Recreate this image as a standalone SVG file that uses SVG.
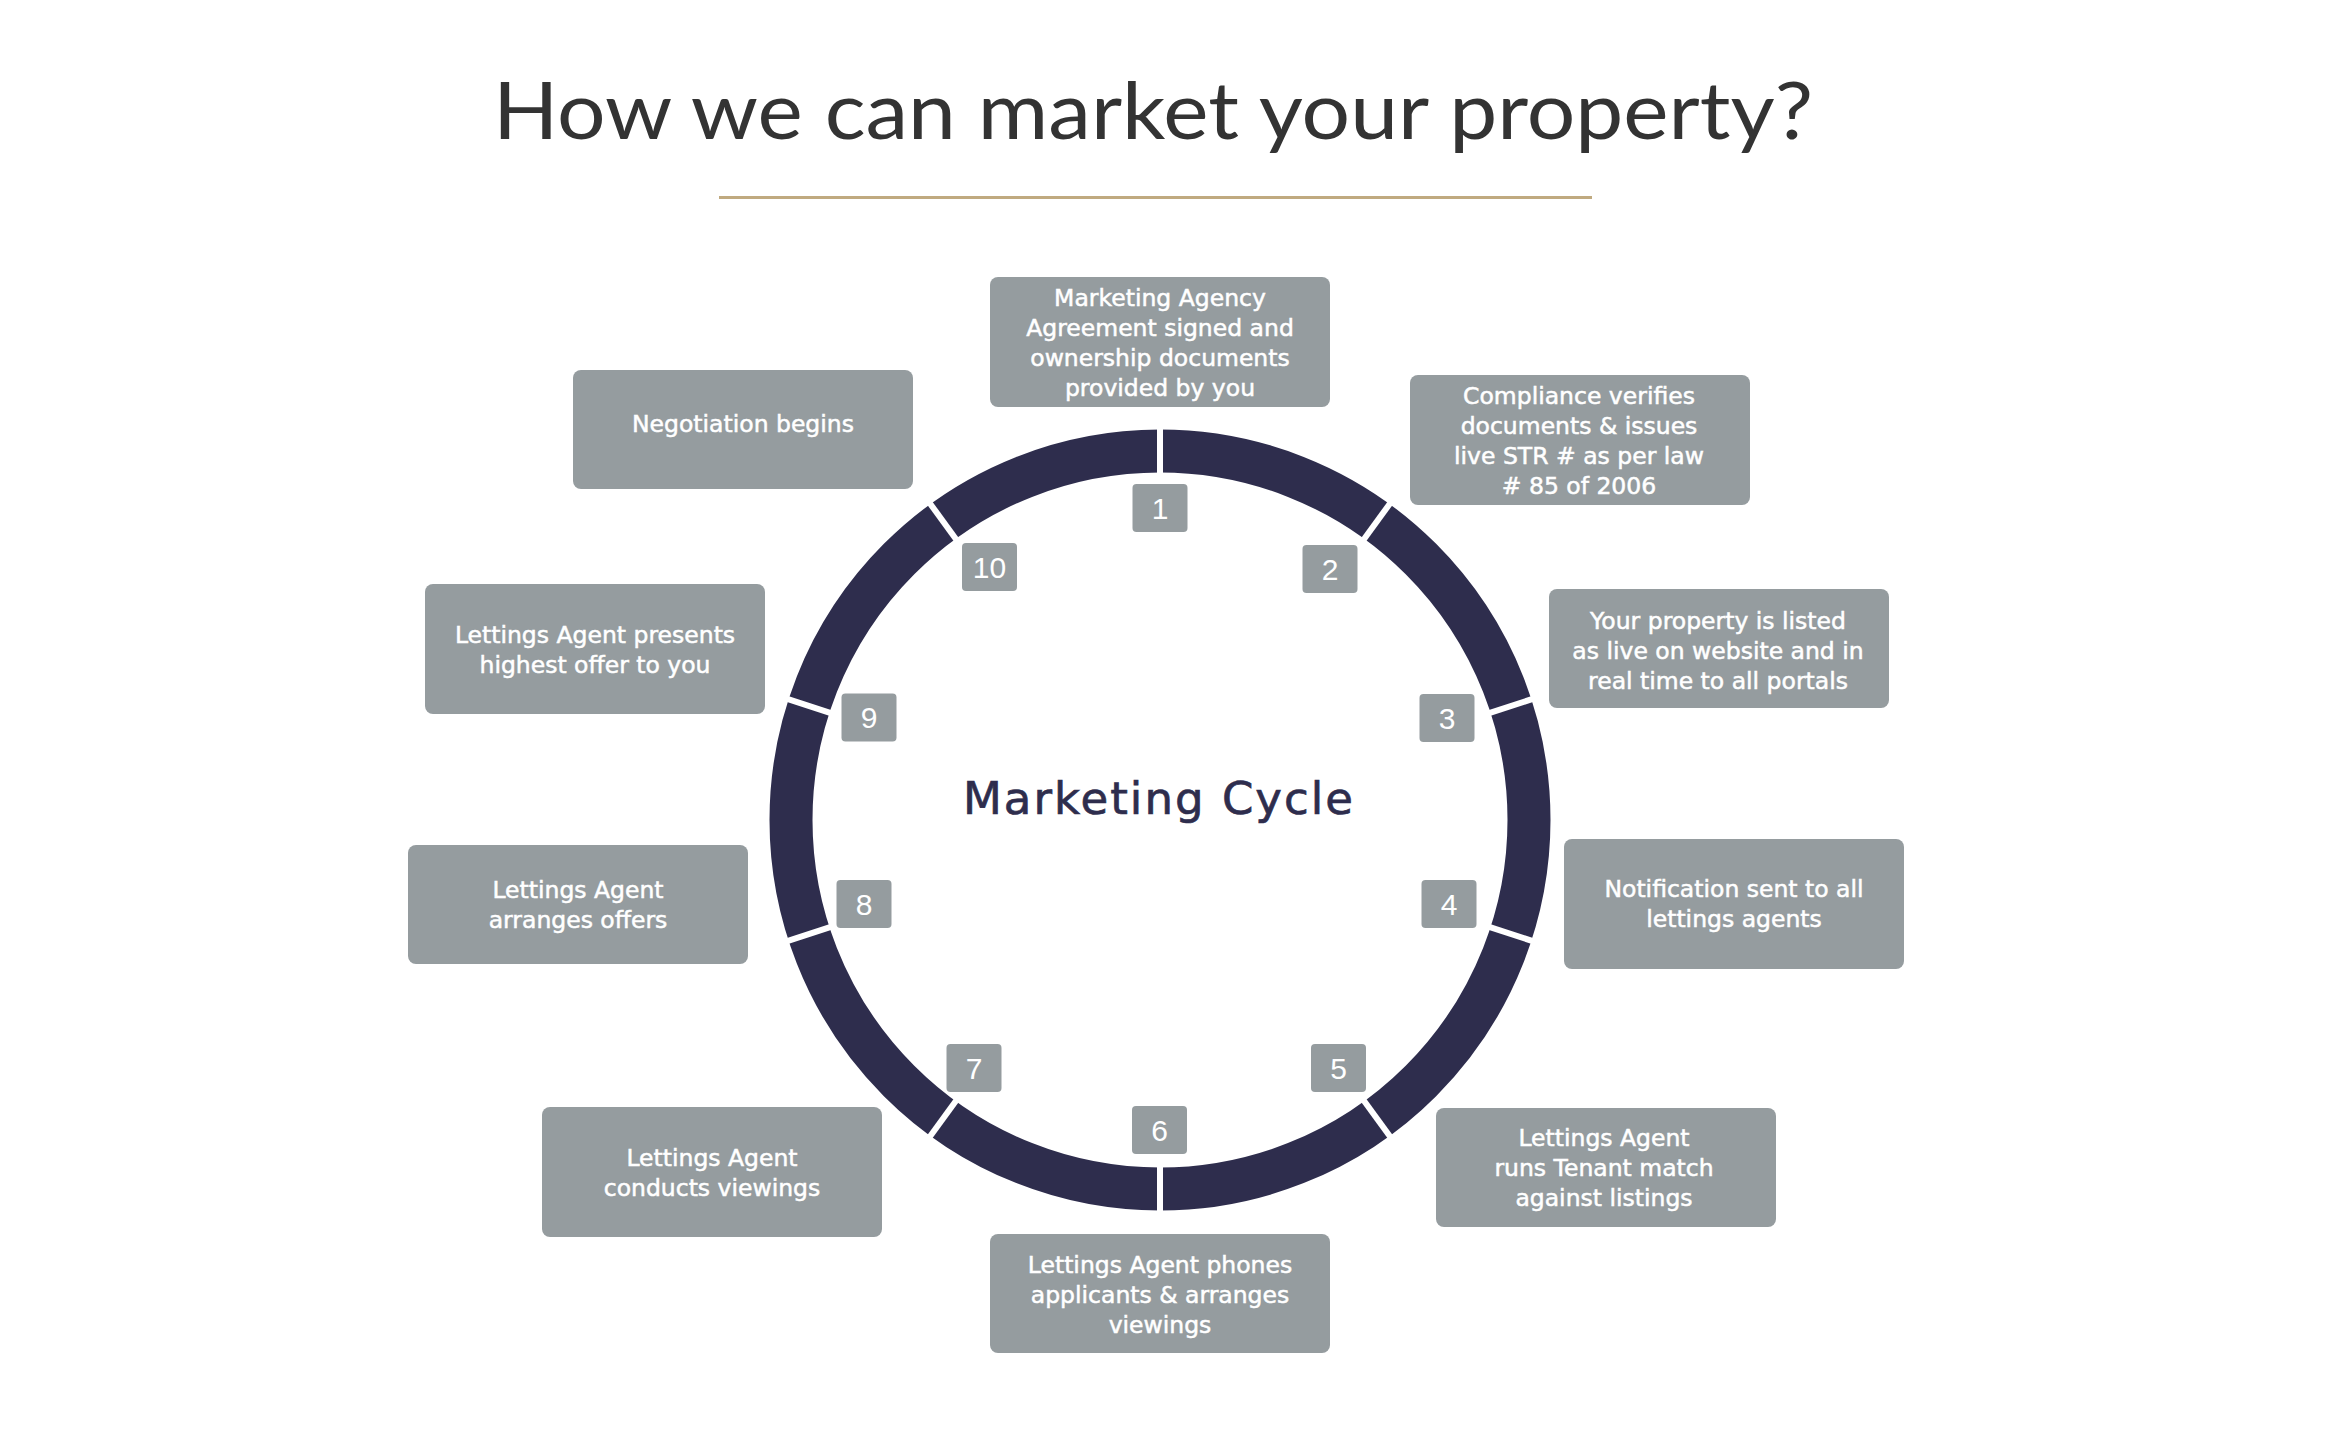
<svg xmlns="http://www.w3.org/2000/svg" width="2326" height="1429" viewBox="0 0 2326 1429">
<style>
.title{font-family:Lato,"Liberation Sans",sans-serif;font-size:80px;fill:#333333}
.box{fill:#959c9f}
.lbl{font-family:"DejaVu Sans","Liberation Sans",sans-serif;font-size:23.5px;fill:#ffffff;stroke:#ffffff;stroke-width:0.5;text-anchor:middle}
.num{fill:#959c9f}
.numt{font-family:"Liberation Sans",Arial,sans-serif;font-size:30px;fill:#ffffff;text-anchor:middle}
.center{font-family:"DejaVu Sans","Liberation Sans",sans-serif;font-size:45px;fill:#2e2d4d;stroke:#2e2d4d;stroke-width:0.7;text-anchor:middle}
.gap{stroke:#ffffff;stroke-width:6}
</style>
<rect x="0" y="0" width="2326" height="1429" fill="#ffffff"/>
<text class="title" x="493" y="139" textLength="1320" lengthAdjust="spacingAndGlyphs">How we can market your property?</text>
<line x1="719" y1="197.5" x2="1592" y2="197.5" stroke="#c0aa80" stroke-width="3"/>

<g id="connectors">
  <circle cx="1160" cy="820" r="369" fill="none" stroke="#2e2d4d" stroke-width="43"/>
  <g class="gap">
    <line x1="1160" y1="420" x2="1160" y2="482"/>
    <line x1="1160" y1="420" x2="1160" y2="482" transform="rotate(36 1160 820)"/>
    <line x1="1160" y1="420" x2="1160" y2="482" transform="rotate(72 1160 820)"/>
    <line x1="1160" y1="420" x2="1160" y2="482" transform="rotate(108 1160 820)"/>
    <line x1="1160" y1="420" x2="1160" y2="482" transform="rotate(144 1160 820)"/>
    <line x1="1160" y1="420" x2="1160" y2="482" transform="rotate(180 1160 820)"/>
    <line x1="1160" y1="420" x2="1160" y2="482" transform="rotate(216 1160 820)"/>
    <line x1="1160" y1="420" x2="1160" y2="482" transform="rotate(252 1160 820)"/>
    <line x1="1160" y1="420" x2="1160" y2="482" transform="rotate(288 1160 820)"/>
    <line x1="1160" y1="420" x2="1160" y2="482" transform="rotate(324 1160 820)"/>
  </g>
</g>

<g id="center-label">
  <text class="center" x="1158" y="814" textLength="390" lengthAdjust="spacing">Marketing Cycle</text>
</g>

<g id="num1"><rect class="num" x="1132.5" y="484" width="55" height="48" rx="4"/><text class="numt" x="1160" y="518.5">1</text></g>
<g id="num2"><rect class="num" x="1302.5" y="545" width="55" height="48" rx="4"/><text class="numt" x="1330" y="579.5">2</text></g>
<g id="num3"><rect class="num" x="1419.5" y="694" width="55" height="48" rx="4"/><text class="numt" x="1447" y="728.5">3</text></g>
<g id="num4"><rect class="num" x="1421.5" y="880" width="55" height="48" rx="4"/><text class="numt" x="1449" y="914.5">4</text></g>
<g id="num5"><rect class="num" x="1311" y="1044" width="55" height="48" rx="4"/><text class="numt" x="1338.5" y="1078.5">5</text></g>
<g id="num6"><rect class="num" x="1132" y="1106" width="55" height="48" rx="4"/><text class="numt" x="1159.5" y="1140.5">6</text></g>
<g id="num7"><rect class="num" x="946.5" y="1044" width="55" height="48" rx="4"/><text class="numt" x="974" y="1078.5">7</text></g>
<g id="num8"><rect class="num" x="836.5" y="880" width="55" height="48" rx="4"/><text class="numt" x="864" y="914.5">8</text></g>
<g id="num9"><rect class="num" x="841.5" y="693.5" width="55" height="48" rx="4"/><text class="numt" x="869" y="728">9</text></g>
<g id="num10"><rect class="num" x="962" y="543" width="55" height="48" rx="4"/><text class="numt" x="989.5" y="577.5">10</text></g>

<g id="step1">
  <rect class="box" x="990" y="277" width="340" height="130" rx="8"/>
  <text class="lbl" x="1160" y="305.5">Marketing Agency</text>
  <text class="lbl" x="1160" y="335.5">Agreement signed and</text>
  <text class="lbl" x="1160" y="365.5">ownership documents</text>
  <text class="lbl" x="1160" y="395.5">provided by you</text>
</g>
<g id="step2">
  <rect class="box" x="1410" y="375" width="340" height="130" rx="8"/>
  <text class="lbl" x="1579" y="403.5">Compliance verifies</text>
  <text class="lbl" x="1579" y="433.5">documents &amp; issues</text>
  <text class="lbl" x="1579" y="463.5">live STR # as per law</text>
  <text class="lbl" x="1579" y="493.5"># 85 of 2006</text>
</g>
<g id="step3">
  <rect class="box" x="1549" y="589" width="340" height="119" rx="8"/>
  <text class="lbl" x="1718" y="629">Your property is listed</text>
  <text class="lbl" x="1718" y="659">as live on website and in</text>
  <text class="lbl" x="1718" y="689">real time to all portals</text>
</g>
<g id="step4">
  <rect class="box" x="1564" y="839" width="340" height="130" rx="8"/>
  <text class="lbl" x="1734" y="897">Notification sent to all</text>
  <text class="lbl" x="1734" y="927">lettings agents</text>
</g>
<g id="step5">
  <rect class="box" x="1436" y="1108" width="340" height="119" rx="8"/>
  <text class="lbl" x="1604" y="1146">Lettings Agent</text>
  <text class="lbl" x="1604" y="1176">runs Tenant match</text>
  <text class="lbl" x="1604" y="1206">against listings</text>
</g>
<g id="step6">
  <rect class="box" x="990" y="1234" width="340" height="119" rx="8"/>
  <text class="lbl" x="1160" y="1273">Lettings Agent phones</text>
  <text class="lbl" x="1160" y="1303">applicants &amp; arranges</text>
  <text class="lbl" x="1160" y="1333">viewings</text>
</g>
<g id="step7">
  <rect class="box" x="542" y="1107" width="340" height="130" rx="8"/>
  <text class="lbl" x="712" y="1165.5">Lettings Agent</text>
  <text class="lbl" x="712" y="1195.5">conducts viewings</text>
</g>
<g id="step8">
  <rect class="box" x="408" y="845" width="340" height="119" rx="8"/>
  <text class="lbl" x="578" y="898">Lettings Agent</text>
  <text class="lbl" x="578" y="928">arranges offers</text>
</g>
<g id="step9">
  <rect class="box" x="425" y="584" width="340" height="130" rx="8"/>
  <text class="lbl" x="595" y="642.5">Lettings Agent presents</text>
  <text class="lbl" x="595" y="672.5">highest offer to you</text>
</g>
<g id="step10">
  <rect class="box" x="573" y="370" width="340" height="119" rx="8"/>
  <text class="lbl" x="743" y="432">Negotiation begins</text>
</g>
</svg>
